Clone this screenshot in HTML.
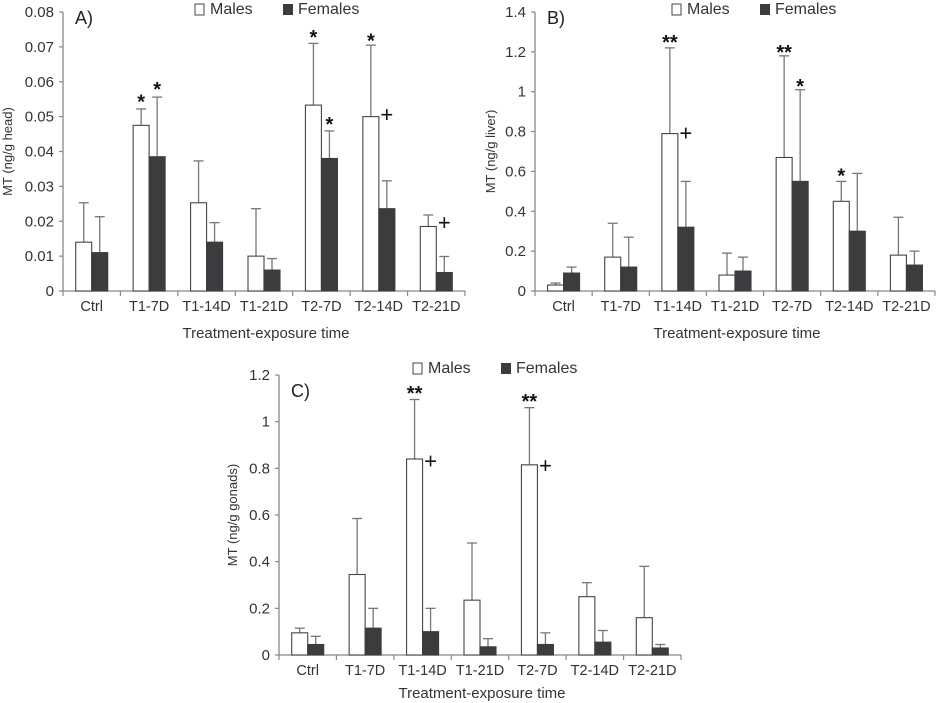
<!DOCTYPE html>
<html><head><meta charset="utf-8"><style>
body{margin:0;background:#fff}
svg{display:block;font-family:"Liberation Sans",Arial,sans-serif}
</style></head><body>
<svg id="s" width="937" height="703" viewBox="0 0 937 703"></svg>
<script>
const categories=["Ctrl","T1-7D","T1-14D","T1-21D","T2-7D","T2-14D","T2-21D"];
const aMales=[0.014,0.0475,0.0253,0.010,0.0533,0.050,0.0185];
const aMalesErr=[0.0253,0.0522,0.0373,0.0236,0.071,0.0705,0.0218];
const aFemales=[0.011,0.0385,0.014,0.006,0.038,0.0236,0.0053];
const aFemalesErr=[0.0213,0.0556,0.0196,0.0093,0.0459,0.0316,0.0099];
const aTicks=["0","0.01","0.02","0.03","0.04","0.05","0.06","0.07","0.08"];
const bMales=[0.03,0.17,0.79,0.08,0.67,0.45,0.18];
const bMalesErr=[0.04,0.34,1.22,0.19,1.18,0.55,0.37];
const bFemales=[0.09,0.12,0.32,0.10,0.55,0.30,0.13];
const bFemalesErr=[0.12,0.27,0.55,0.17,1.01,0.59,0.20];
const bTicks=["0","0.2","0.4","0.6","0.8","1","1.2","1.4"];
const cMales=[0.095,0.345,0.84,0.235,0.815,0.25,0.16];
const cMalesErr=[0.115,0.585,1.095,0.48,1.06,0.31,0.38];
const cFemales=[0.045,0.115,0.10,0.035,0.045,0.055,0.03];
const cFemalesErr=[0.08,0.2,0.2,0.07,0.095,0.105,0.045];
const cTicks=["0","0.2","0.4","0.6","0.8","1","1.2"];
// annotations: [category index, sex (0 male,1 female), text, y value]
const aNotes=[[1,0,"*",0.0555],[1,1,"*",0.059],[4,0,"*",0.074],[4,1,"*",0.049],[5,0,"*",0.073],[5,1,"+",0.0505],[6,1,"+",0.0195]];
const bNotes=[[2,0,"**",1.27],[2,1,"+",0.79],[4,0,"**",1.22],[4,1,"*",1.05],[5,0,"*",0.6]];
const cNotes=[[2,0,"**",1.14],[2,1,"+",0.83],[4,0,"**",1.105],[4,1,"+",0.81]];

const NS="http://www.w3.org/2000/svg";
const svg=document.getElementById("s");
function mk(tag,attrs,parent,text){const e=document.createElementNS(NS,tag);for(const k in attrs)e.setAttribute(k,attrs[k]);if(text!==undefined)e.textContent=text;(parent||svg).appendChild(e);return e;}

function chart(p){
  const g=mk("g",{});
  
  
  const max=parseFloat(p.ticks[p.ticks.length-1]);
  const y=v=>p.y0-(v/max)*(p.y0-p.yTop);
  const step=(p.xEnd-p.x0)/categories.length;
  const cx=i=>p.x0+step*(i+0.5);
  const bw=16;
  const ya=mk("line",{x1:p.x0,y1:p.yTop,x2:p.x0,y2:p.y0,stroke:"#888","stroke-width":1.3},g);
  
  
  p.ticks.forEach(t=>{
    const yy=y(parseFloat(t));
    mk("line",{x1:p.x0-4,y1:yy,x2:p.x0,y2:yy,stroke:"#888","stroke-width":1.2},g);
    const tl=mk("text",{x:p.x0-9,y:yy+5,"text-anchor":"end","font-size":15,fill:"#333"},g,t);
    
    
  });
  const xa=mk("line",{x1:p.x0,y1:p.y0,x2:p.xEnd,y2:p.y0,stroke:"#888","stroke-width":1.3},g);
  
  
  for(let i=0;i<=categories.length;i++){
    const xx=p.x0+step*i;
    mk("line",{x1:xx,y1:p.y0,x2:xx,y2:p.y0+5,stroke:"#888","stroke-width":1.2},g);
  }
  categories.forEach((c,i)=>{
    const tl=mk("text",{x:cx(i),y:p.y0+20,"text-anchor":"middle","font-size":14.5,fill:"#333"},g,c);
    
    
  });
  const series=[[p.m,p.mErr,"#fff","male"],[p.f,p.fErr,"#3c3c3e","female"]];
  series.forEach((s,si)=>{
    s[0].forEach((v,i)=>{
      const x=cx(i)-bw+si*bw;
      const bx=x+bw/2;
      const e=mk("line",{x1:bx,y1:y(s[1][i]),x2:bx,y2:y(v),stroke:"#777","stroke-width":1.3},g);
      
      
      mk("line",{x1:bx-5,y1:y(s[1][i]),x2:bx+5,y2:y(s[1][i]),stroke:"#777","stroke-width":1.3},g);
      const r=mk("rect",{x:x,y:y(v),width:bw,height:p.y0-y(v),fill:s[2],stroke:si?"#3c3c3e":"#444","stroke-width":1.1},g);
      
      
    });
  });
  p.notes.forEach(n=>{
    const x=cx(n[0])-bw/2+n[1]*bw;
    const t=mk("text",{x:x,y:y(n[3])+(n[2]==="+"?7:11),"text-anchor":"middle","font-size":n[2]==="+"?22:20,"font-weight":n[2]==="+"?"normal":"bold",fill:"#111"},g,n[2]);
    
    
  });
  const yt=mk("text",{transform:`translate(${p.ylX},${(p.y0+p.yTop)/2}) rotate(-90)`,"text-anchor":"middle","font-size":13,fill:"#333"},g,p.ylabel);
  
  
  const xt=mk("text",{x:(p.x0+p.xEnd)/2+2,y:p.y0+p.xtOff,"text-anchor":"middle","font-size":15,fill:"#333"},g,"Treatment-exposure time");
  
  
  const pl=mk("text",{x:p.x0+12,y:p.letterY,"font-size":18,fill:"#222"},g,p.letter);
  
  
  const lg=mk("g",{},g);
  
  
  mk("rect",{x:p.legX,y:p.legY-10,width:9,height:11,fill:"#fff",stroke:"#444","stroke-width":1},lg);
  const l1=mk("text",{x:p.legX+15,y:p.legY,"font-size":16,fill:"#333"},lg,"Males");
  
  
  mk("rect",{x:p.legX+88,y:p.legY-10,width:10,height:11,fill:"#3c3c3e"},lg);
  const l2=mk("text",{x:p.legX+103,y:p.legY,"font-size":16,fill:"#333"},lg,"Females");
  
  
}
chart({name:"chart-a-head",x0:63,xEnd:465,y0:291,yTop:12,ticks:aTicks,m:aMales,mErr:aMalesErr,f:aFemales,fErr:aFemalesErr,notes:aNotes,ylabel:"MT (ng/g head)",ylX:12,letter:"A)",letterY:24,legX:195,legY:14,xtOff:47});
chart({name:"chart-b-liver",x0:535,xEnd:935,y0:291,yTop:12,ticks:bTicks,m:bMales,mErr:bMalesErr,f:bFemales,fErr:bFemalesErr,notes:bNotes,ylabel:"MT (ng/g liver)",ylX:495,letter:"B)",letterY:24,legX:672,legY:14,xtOff:47});
chart({name:"chart-c-gonads",x0:279,xEnd:681,y0:655,yTop:375,ticks:cTicks,m:cMales,mErr:cMalesErr,f:cFemales,fErr:cFemalesErr,notes:cNotes,ylabel:"MT (ng/g gonads)",ylX:237,letter:"C)",letterY:397,legX:413,legY:373,xtOff:43});
</script>
</body></html>
